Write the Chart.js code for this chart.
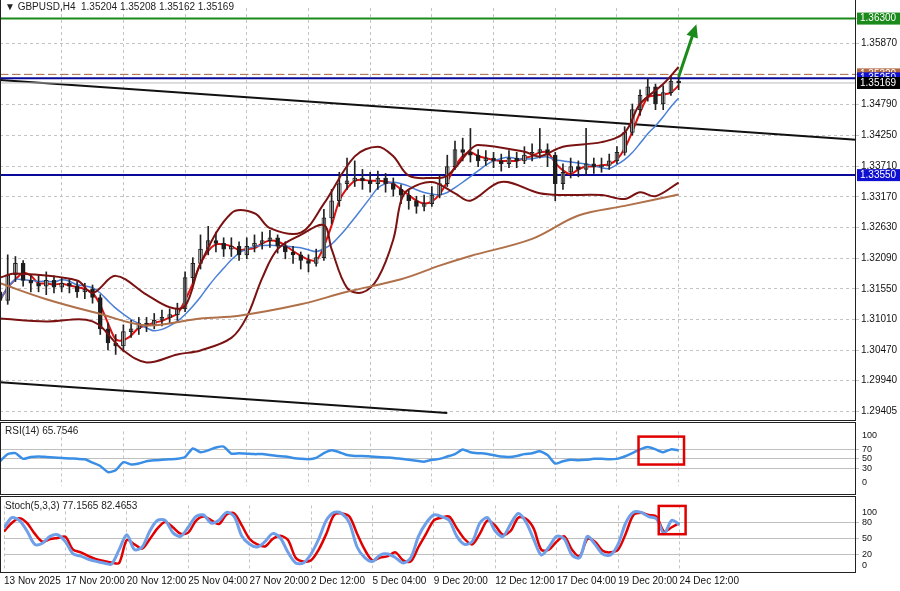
<!DOCTYPE html>
<html>
<head>
<meta charset="utf-8">
<script src="https://cdn.jsdelivr.net/npm/chart.js@4.4.1/dist/chart.umd.min.js"></script>
<style>
  body { margin: 0; background: #fff; width: 900px; height: 591px; overflow: hidden; position: relative; font-family: "Liberation Sans", sans-serif; }
  .pane { position: absolute; left: 0; width: 900px; }
  .title { position: absolute; left: 5px; font-size: 10px; color: #222; white-space: pre; }
  .frame { position: absolute; left: 0; width: 856px; border: 1px solid #222; box-sizing: border-box; pointer-events: none; }
</style>
</head>
<body>
<div class="pane" style="top:0;height:421px"><canvas id="mainChart"></canvas></div>
<div class="pane" style="top:423px;height:71px"><canvas id="rsiChart"></canvas></div>
<div class="pane" style="top:497px;height:94px"><canvas id="stochChart"></canvas></div>
<div class="frame" style="top:0;height:421px;border-top:none"></div>
<div class="frame" style="top:422px;height:73px"></div>
<div class="frame" style="top:496px;height:77px"></div>
<div class="title" style="top:1px">▼ GBPUSD,H4  1.35204 1.35208 1.35162 1.35169</div>
<div class="title" style="top:425px">RSI(14) 65.7546</div>
<div class="title" style="top:500px">Stoch(5,3,3) 77.1565 82.4653</div>
<script>
// slots of two H4 bars each; the chart runs on to slot 111 (empty right side)
const lastSlot = 111;
const timeLabels = {
    0: '13 Nov 2025', 8: '17 Nov 20:00', 16: '20 Nov 12:00', 24: '25 Nov 04:00',
    32: '27 Nov 20:00', 40: '2 Dec 12:00', 48: '5 Dec 04:00', 56: '9 Dec 20:00',
    64: '12 Dec 12:00', 72: '17 Dec 04:00', 80: '19 Dec 20:00', 88: '24 Dec 12:00'
};

const closes = [1.3135,1.3180,1.3200,1.3170,1.3165,1.3160,1.3170,1.3158,1.3165,1.3160,
    1.3150,1.3155,1.3140,1.3085,1.3060,1.3055,1.3080,1.3085,1.3095,1.3092,
    1.3100,1.3105,1.3110,1.3120,1.3175,1.3200,1.3225,1.3240,1.3235,1.3225,
    1.3230,1.3215,1.3230,1.3235,1.3240,1.3245,1.3230,1.3220,1.3215,1.3205,
    1.3200,1.3210,1.3280,1.3310,1.3340,1.3345,1.3350,1.3345,1.3340,1.3350,
    1.3340,1.3330,1.3320,1.3310,1.3300,1.3305,1.3320,1.3340,1.3370,1.3400,
    1.3395,1.3390,1.3380,1.3385,1.3380,1.3375,1.3385,1.3380,1.3390,1.3395,
    1.3400,1.3390,1.3340,1.3360,1.3370,1.3365,1.3375,1.3370,1.3372,1.3380,
    1.3395,1.3430,1.3470,1.3495,1.3510,1.3480,1.3500,1.3520,1.3517];
const opens = [1.3150,1.3135,1.3180,1.3200,1.3170,1.3165,1.3160,1.3170,1.3158,1.3165,
    1.3160,1.3150,1.3155,1.3140,1.3085,1.3060,1.3055,1.3080,1.3085,1.3095,
    1.3092,1.3100,1.3105,1.3110,1.3120,1.3175,1.3200,1.3225,1.3240,1.3235,
    1.3225,1.3230,1.3215,1.3230,1.3235,1.3240,1.3245,1.3230,1.3220,1.3215,
    1.3205,1.3200,1.3210,1.3280,1.3310,1.3340,1.3345,1.3350,1.3345,1.3340,
    1.3350,1.3340,1.3330,1.3320,1.3310,1.3300,1.3305,1.3320,1.3340,1.3370,
    1.3400,1.3395,1.3390,1.3380,1.3385,1.3380,1.3375,1.3385,1.3380,1.3390,
    1.3395,1.3400,1.3390,1.3340,1.3360,1.3370,1.3365,1.3375,1.3370,1.3372,
    1.3380,1.3395,1.3430,1.3470,1.3495,1.3510,1.3480,1.3500,1.3520];
const highs = [1.3165,1.3215,1.3212,1.3205,1.3180,1.3180,1.3185,1.3178,1.3175,1.3172,
    1.3168,1.3165,1.3162,1.3145,1.3095,1.3075,1.3092,1.3100,1.3105,1.3105,
    1.3112,1.3118,1.3120,1.3130,1.3185,1.3210,1.3250,1.3265,1.3255,1.3245,
    1.3245,1.3238,1.3245,1.3250,1.3255,1.3258,1.3250,1.3238,1.3230,1.3220,
    1.3215,1.3225,1.3295,1.3330,1.3360,1.3385,1.3380,1.3365,1.3360,1.3362,
    1.3358,1.3350,1.3338,1.3330,1.3318,1.3320,1.3335,1.3355,1.3390,1.3415,
    1.3420,1.3437,1.3400,1.3398,1.3395,1.3392,1.3398,1.3395,1.3405,1.3410,
    1.3437,1.3410,1.3395,1.3375,1.3385,1.3380,1.3437,1.3385,1.3385,1.3392,
    1.3405,1.3440,1.3480,1.3505,1.3525,1.3515,1.3512,1.3530,1.3528];
const lows = [1.3110,1.3128,1.3168,1.3160,1.3150,1.3150,1.3145,1.3148,1.3150,1.3148,
    1.3140,1.3138,1.3130,1.3075,1.3048,1.3040,1.3045,1.3070,1.3075,1.3080,
    1.3085,1.3090,1.3095,1.3100,1.3115,1.3165,1.3190,1.3215,1.3220,1.3212,
    1.3212,1.3205,1.3208,1.3220,1.3225,1.3228,1.3218,1.3208,1.3200,1.3190,
    1.3185,1.3195,1.3205,1.3270,1.3300,1.3330,1.3335,1.3330,1.3325,1.3330,
    1.3325,1.3318,1.3305,1.3295,1.3288,1.3292,1.3300,1.3315,1.3335,1.3365,
    1.3380,1.3378,1.3370,1.3372,1.3368,1.3362,1.3368,1.3368,1.3375,1.3380,
    1.3385,1.3370,1.3310,1.3330,1.3350,1.3352,1.3355,1.3358,1.3360,1.3365,
    1.3375,1.3390,1.3425,1.3460,1.3485,1.3470,1.3470,1.3495,1.3505];

// indicator lines (slot, price)
const bandUpper = [[0,1.3175],[2,1.3182],[10,1.3170],[12,1.3148],[15,1.3178],[19,1.3145],[22,1.3123],[24,1.3125],[26,1.3200],[30,1.3288],[33,1.3288],[35,1.3262],[39,1.3254],[42,1.3305],[46,1.3388],[49,1.3405],[51,1.3388],[53,1.3354],[56,1.3350],[58,1.3354],[61,1.3400],[62,1.3408],[68,1.3396],[70,1.3388],[73,1.3405],[78,1.3413],[81,1.3430],[83,1.3480],[86,1.3515],[88,1.3545]];
const bandLower = [[0,1.3103],[6,1.3098],[12,1.3098],[16,1.3047],[19,1.3026],[23,1.3040],[26,1.3047],[30,1.3069],[32,1.3106],[34,1.3174],[36,1.3225],[39,1.3250],[42,1.3267],[43,1.3225],[45,1.3157],[47,1.3149],[49,1.3174],[51,1.3242],[52,1.3310],[53,1.3330],[56,1.3343],[59,1.3323],[61,1.3310],[65,1.3343],[70,1.3323],[73,1.3320],[78,1.3320],[81,1.3313],[83,1.3325],[85,1.3318],[88,1.3342]];
const maSlow = [[0,1.3165],[6,1.3137],[13,1.3111],[19,1.3091],[26,1.3103],[31,1.3108],[39,1.3128],[45,1.3150],[52,1.3172],[57,1.3196],[61,1.3213],[69,1.3243],[75,1.3284],[81,1.3301],[88,1.3321]];

const rsiValues = [45,60,62,50,54,55,54,53,52,51,50,49,42,35,22,26,43,38,40,45,
    47,48,49,50,54,72,64,68,74,76,61,62,61,60,60,58,56,55,52,50,
    49,52,62,68,64,58,56,56,55,54,53,52,50,48,46,44,48,50,55,60,
    70,64,62,61,58,55,54,56,60,62,66,58,40,45,48,47,48,50,50,49,
    50,55,62,70,75,70,64,70,68];
const stochK = [70,90,85,65,40,42,55,58,45,22,18,12,8,5,3,30,58,30,35,65,
    85,85,62,55,72,92,95,80,85,100,92,55,40,35,45,60,52,25,5,5,
    22,50,85,100,98,80,35,15,8,20,22,15,5,15,55,80,95,92,85,55,
    40,45,80,90,65,55,78,98,82,50,20,35,55,50,20,15,55,40,22,20,
    40,80,100,100,92,88,60,85,77];
const stochD = [64,80,89,80,60,45,50,52,54,30,25,18,12,9,6,5,48,40,32,50,
    70,82,72,60,62,84,92,85,78,96,98,75,50,40,36,50,56,48,15,8,
    10,30,60,95,98,92,60,30,10,15,18,25,10,8,35,60,85,90,92,70,
    50,40,60,85,75,58,65,90,88,70,30,30,45,55,30,18,50,45,28,25,
    30,60,95,99,95,92,64,72,80];

const priceTicks = [1.36300,1.35870,1.35320,1.34790,1.34250,1.33710,1.33170,1.32630,1.32090,1.31550,1.31010,1.30470,1.29940,1.29405];
const levels = [
    { price: 1.36300, color: '#1a8a1a', width: 2, dash: [], box: '#1a8a1a', text: '1.36300' },
    { price: 1.35320, color: '#b06a44', width: 1, dash: [8, 4], box: '#b06a44', text: '1.35320' },
    { price: 1.35250, color: '#0a0a9a', width: 2, dash: [], box: '#1010d0', text: '1.35250' },
    { price: 1.35169, color: '#bbbbbb', width: 1, dash: [], box: '#000000', text: '1.35169' },
    { price: 1.33550, color: '#0a0a9a', width: 2, dash: [], box: '#1010d0', text: '1.33550' }
];
const channelTop = [[0,1.3522],[111,1.3417]];
const channelBottom = [[0,1.2991],[58,1.2937]];
const targetArrow = [[88,1.3528],[90.3,1.3620]];

const FONT = 'Liberation Sans';

function movingAverage(values, period) {
    return values.map((v, i) => {
        const part = values.slice(Math.max(0, i - period + 1), i + 1);
        return part.reduce((a, b) => a + b, 0) / part.length;
    });
}
const pairsToPoints = arr => arr.map(p => ({ x: p[0], y: p[1] }));
const seriesToPoints = arr => arr.map((v, i) => ({ x: i, y: v }));

const fixedWidth = { afterFit: s => { s.width = 44; } };
function xScale(showLabels) {
    return {
        type: 'linear', min: 0, max: lastSlot, offset: false,
        afterBuildTicks: s => { s.ticks = Object.keys(timeLabels).map(k => ({ value: +k })); },
        grid: { color: '#c4c4c4', tickLength: 0, offset: false },
        border: { display: false, dash: [3, 3] },
        ticks: {
            display: showLabels, autoSkip: false, maxRotation: 0, align: 'start', padding: 4,
            color: '#111', font: { size: 10, family: FONT },
            callback: v => timeLabels[v] || ''
        }
    };
}

const mainOverlay = {
    id: 'mainOverlay',
    beforeDatasetsDraw(chart) {
        const { ctx, chartArea: a, scales: { x, y } } = chart;
        ctx.save();
        [channelTop, channelBottom].forEach(line => {
            ctx.strokeStyle = '#111'; ctx.lineWidth = 2; ctx.setLineDash([]);
            ctx.beginPath();
            ctx.moveTo(x.getPixelForValue(line[0][0]), y.getPixelForValue(line[0][1]));
            ctx.lineTo(x.getPixelForValue(line[1][0]), y.getPixelForValue(line[1][1]));
            ctx.stroke();
        });
        levels.forEach(l => {
            const py = y.getPixelForValue(l.price);
            ctx.strokeStyle = l.color; ctx.lineWidth = l.width; ctx.setLineDash(l.dash);
            ctx.beginPath(); ctx.moveTo(a.left, py); ctx.lineTo(a.right, py); ctx.stroke();
        });
        ctx.restore();
    },
    afterDraw(chart) {
        const { ctx, chartArea: a, scales: { x, y } } = chart;
        ctx.save();
        const x0 = x.getPixelForValue(targetArrow[0][0]), y0 = y.getPixelForValue(targetArrow[0][1]);
        const x1 = x.getPixelForValue(targetArrow[1][0]), y1 = y.getPixelForValue(targetArrow[1][1]);
        const ang = Math.atan2(y1 - y0, x1 - x0);
        const c = Math.cos(ang), s = Math.sin(ang);
        ctx.strokeStyle = '#1a8a1a'; ctx.fillStyle = '#1a8a1a'; ctx.lineWidth = 3;
        ctx.beginPath(); ctx.moveTo(x0, y0); ctx.lineTo(x1 - 9 * c, y1 - 9 * s); ctx.stroke();
        ctx.beginPath(); ctx.moveTo(x1, y1);
        ctx.lineTo(x1 - 13 * c + 6 * s, y1 - 13 * s - 6 * c);
        ctx.lineTo(x1 - 13 * c - 6 * s, y1 - 13 * s + 6 * c);
        ctx.closePath(); ctx.fill();
        ctx.font = '10px "' + FONT + '"'; ctx.textBaseline = 'middle';
        levels.forEach(l => {
            const py = y.getPixelForValue(l.price);
            ctx.fillStyle = l.box; ctx.fillRect(a.right + 1, py - 6, 43, 12);
            ctx.fillStyle = '#fff'; ctx.fillText(l.text, a.right + 4, py);
        });
        ctx.restore();
    }
};

const bull = closes.map((c, i) => c >= opens[i]);

new Chart(document.getElementById('mainChart'), {
    type: 'bar',
    data: {
        datasets: [
            { type: 'line', data: pairsToPoints(maSlow), borderColor: '#b0704a', borderWidth: 2, pointRadius: 0, tension: 0.35 },
            { type: 'line', data: pairsToPoints(bandUpper), borderColor: '#7a1212', borderWidth: 2, pointRadius: 0, tension: 0.35 },
            { type: 'line', data: pairsToPoints(bandLower), borderColor: '#7a1212', borderWidth: 2, pointRadius: 0, tension: 0.35 },
            { data: lows.map((l, i) => ({ x: i, y: [l, highs[i]] })), backgroundColor: '#222', barThickness: 1, grouped: false },
            { data: opens.map((o, i) => ({ x: i, y: [o, closes[i]] })), backgroundColor: bull.map(b => (b ? '#fff' : '#111')),
              borderColor: '#222', borderWidth: 1, borderSkipped: false, barThickness: 4, grouped: false },
            { type: 'line', data: seriesToPoints(movingAverage(closes, 8)), borderColor: '#4a7fd8', borderWidth: 1.5, pointRadius: 0, tension: 0.3 },
            { type: 'line', data: seriesToPoints(movingAverage(closes, 3)), borderColor: '#e01010', borderWidth: 2, pointRadius: 0, tension: 0.3 }
        ]
    },
    options: {
        responsive: true, maintainAspectRatio: false, animation: false,
        layout: { padding: 0 },
        plugins: { legend: { display: false }, tooltip: { enabled: false } },
        scales: {
            x: xScale(false),
            y: {
                position: 'right', min: 1.29371, max: 1.36486, ...fixedWidth,
                afterBuildTicks: s => { s.ticks = priceTicks.map(v => ({ value: v })); },
                grid: { color: '#c4c4c4', tickLength: 3 },
                border: { display: false, dash: [3, 3] },
                ticks: { color: '#111', font: { size: 10, family: FONT }, padding: 2, autoSkip: false, callback: v => v.toFixed(5) }
            }
        }
    },
    plugins: [mainOverlay]
});

function oscillator(id, datasets, range, tickValues, levelValues, showX, box) {
    return new Chart(document.getElementById(id), {
        type: 'line',
        data: { datasets },
        options: {
            responsive: true, maintainAspectRatio: false, animation: false,
            layout: { padding: 0 },
            plugins: { legend: { display: false }, tooltip: { enabled: false } },
            scales: {
                x: xScale(showX),
                y: {
                    position: 'right', min: range[0], max: range[1], ...fixedWidth,
                    afterBuildTicks: s => { s.ticks = tickValues.map(v => ({ value: v })); },
                    grid: { color: ctx => (levelValues.includes(ctx.tick.value) ? '#c0c0c0' : 'transparent'), tickLength: 3 },
                    border: { display: false },
                    ticks: { color: '#111', font: { size: 9, family: FONT }, padding: 3, autoSkip: false }
                }
            }
        },
        plugins: [{
            id: 'highlightBox',
            afterDraw(chart) {
                const { ctx, scales: { x, y } } = chart;
                ctx.save(); ctx.strokeStyle = '#e00000'; ctx.lineWidth = 2.5;
                const l = x.getPixelForValue(box[0]), r = x.getPixelForValue(box[1]);
                const t = y.getPixelForValue(box[3]), b = y.getPixelForValue(box[2]);
                ctx.strokeRect(l, t, r - l, b - t);
                ctx.restore();
            }
        }]
    });
}

const rsiBox = [82.8, 88.7, 38, 97];
const stochBox = [85.3, 88.8, 59, 112];

oscillator('rsiChart', [
    { data: seriesToPoints(rsiValues), borderColor: '#3a8ee6', borderWidth: 2.5, pointRadius: 0, tension: 0.2 }
], [-6.5, 108], [0, 30, 50, 70, 100], [30, 50, 70], false, rsiBox);

oscillator('stochChart', [
    { data: seriesToPoints(stochK), borderColor: '#6e9fe8', borderWidth: 3, pointRadius: 0, tension: 0.3 },
    { data: seriesToPoints(stochD), borderColor: '#e00000', borderWidth: 2.5, pointRadius: 0, tension: 0.3 }
], [-10, 113], [0, 20, 50, 80, 100], [20, 50, 80], true, stochBox);
</script>
</body>
</html>
